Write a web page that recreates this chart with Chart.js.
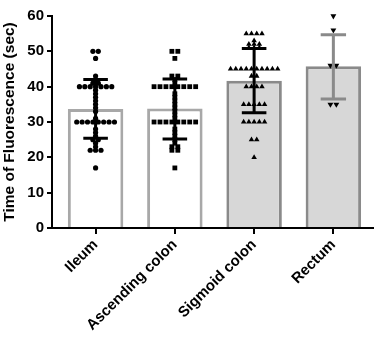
<!DOCTYPE html>
<html><head><meta charset="utf-8">
<script src="https://cdn.jsdelivr.net/npm/chart.js@4"></script>
<style>html,body{margin:0;padding:0;background:#fff}</style>
</head><body>
<canvas id="c" width="383" height="348"></canvas>
<script>
const categories = ['Ileum', 'Ascending colon', 'Sigmoid colon', 'Rectum'];
const means = [33.7, 33.8, 41.7, 45.8];
const sdLow = [25.4, 25.2, 32.6, 36.5];
const sdHigh = [42.0, 42.2, 50.8, 54.7];

const ileum = [50,50,48,43,42,41,41,40,40,40,40,40,40,40,39,38,37,36,35,34,33,31,30,30,30,30,30,30,30,30,28,27,26,25,25,24,23,22,22,22,17];
const ascending = [50,50,48,43,43,42,41,40,40,40,40,40,40,40,40,38,37,36,35,34,33,32,31,30,30,30,30,30,30,30,30,28,27,26,25,24,23,23,22,22,17];
const sigmoid = [55,55,55,55,53,52,52,52,51,51,51,45,45,45,45,45,45,45,45,45,45,43,43,40,40,40,40,35,35,35,35,35,30,30,30,30,30,25,25,20];
const rectum = [60,56,46,46,35,35];

const BLACK = '#000000';
const GREY_ERR = '#8a8a8a';

// beeswarm layout: equal values spread side by side around the category centre
function swarm(values, index, step) {
  const groups = {};
  values.forEach(v => { (groups[v] = groups[v] || []).push(v); });
  const pts = [];
  Object.keys(groups).forEach(k => {
    const g = groups[k];
    g.forEach((v, i) => pts.push({ x: index + (i - (g.length - 1) / 2) * step, y: v }));
  });
  return pts;
}

function errLines(idx, cap) {
  const d = [];
  idx.forEach(i => {
    d.push({ x: i, y: sdLow[i] }, { x: i, y: sdHigh[i] }, { x: i, y: null });
    d.push({ x: i - cap, y: sdHigh[i] }, { x: i + cap, y: sdHigh[i] }, { x: i, y: null });
    d.push({ x: i - cap, y: sdLow[i] }, { x: i + cap, y: sdLow[i] }, { x: i, y: null });
  });
  return d;
}

const fam = '"Liberation Sans", Arial, sans-serif';
const tickFont = { family: fam, weight: 'bold', size: 15 };
const titleFont = { family: fam, weight: 'bold', size: 15.5 };

const pt = (data, style, r, extra) => Object.assign({
  type: 'scatter', data: data, pointStyle: style, pointRadius: r,
  backgroundColor: BLACK, borderColor: BLACK, borderWidth: 0, clip: false, order: 3
}, extra || {});

new Chart(document.getElementById('c'), {
  data: {
    datasets: [
      {
        type: 'bar',
        data: means.map((m, i) => ({ x: i, y: m })),
        backgroundColor: ['#ffffff', '#ffffff', '#d7d7d7', '#d7d7d7'],
        borderColor: ['#a8a8a8', '#a8a8a8', '#8a8a8a', '#8a8a8a'],
        borderWidth: 3,
        barPercentage: 0.7,
        categoryPercentage: 1,
        order: 5
      },
      pt(swarm(ileum, 0, 0.068), 'circle', 2.6),
      pt(swarm(ascending, 1, 0.075), 'rect', 3.4),
      pt(swarm(sigmoid, 2, 0.066), 'triangle', 3.2),
      pt(swarm(rectum, 3, 0.075), 'triangle', 3.4, { rotation: 180 }),
      { type: 'line', data: errLines([0, 1, 2], 0.155), borderColor: BLACK, borderWidth: 3, pointRadius: 0, spanGaps: false, fill: false, order: 1 },
      { type: 'line', data: errLines([3], 0.16), borderColor: GREY_ERR, borderWidth: 3, pointRadius: 0, spanGaps: false, fill: false, order: 1 }
    ]
  },
  options: {
    responsive: false,
    animation: false,
    devicePixelRatio: 1,
    layout: { padding: { top: 16, right: 10, left: 0, bottom: 0 } },
    plugins: { legend: { display: false }, tooltip: { enabled: false } },
    scales: {
      x: {
        type: 'linear',
        offset: false,
        min: -0.55,
        max: 3.5,
        ticks: {
          stepSize: 1,
          includeBounds: false,
          autoSkip: false,
          color: BLACK,
          font: tickFont,
          maxRotation: 45,
          minRotation: 45,
          padding: 2,
          callback: v => categories[v]
        },
        grid: { offset: false, drawOnChartArea: false, color: BLACK, lineWidth: 2, tickLength: 6 },
        border: { color: BLACK, width: 2 },
        afterFit: s => { s.height = 120; }
      },
      y: {
        min: 0,
        max: 60,
        ticks: { stepSize: 10, color: BLACK, font: tickFont, padding: 3 },
        grid: { drawOnChartArea: false, color: BLACK, lineWidth: 2, tickLength: 5 },
        border: { color: BLACK, width: 2 },
        title: { display: true, text: 'Time of Fluorescence (sec)', color: BLACK, font: titleFont, padding: 0 },
        afterFit: s => { s.width = 52; }
      }
    }
  }
});
</script>
</body></html>
